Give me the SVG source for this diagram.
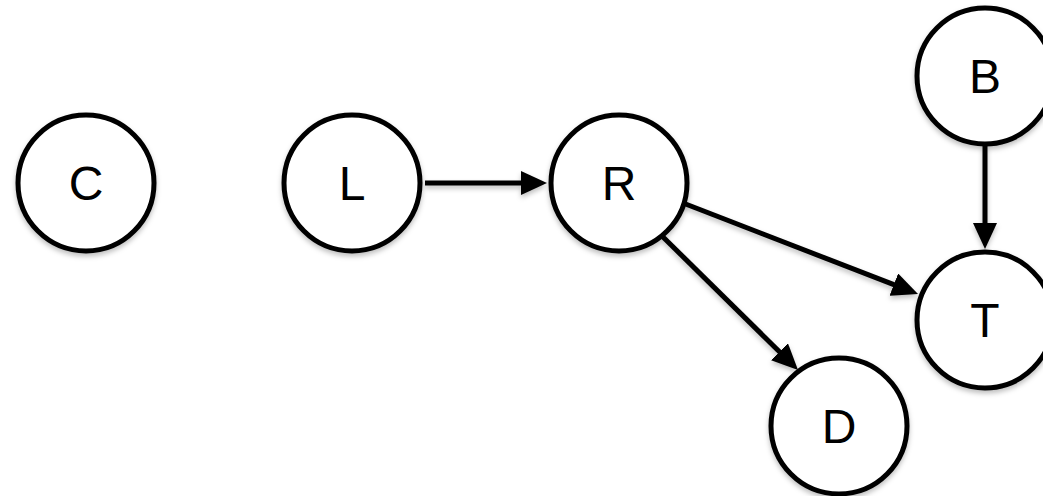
<svg xmlns="http://www.w3.org/2000/svg" width="1043" height="496" viewBox="0 0 1043 496">
<style>
.node circle{fill:#fff;stroke:#000;stroke-width:5;filter:url(#sh)}
.node text{font-family:"Liberation Sans",Arial,sans-serif;font-size:48px;fill:#000;text-anchor:middle}
.edge{stroke:#000;stroke-width:5;fill:none;marker-end:url(#ah);filter:url(#sh)}
</style>
<defs>
<filter id="sh" filterUnits="userSpaceOnUse" x="0" y="0" width="1043" height="496">
<feDropShadow dx="0" dy="3" stdDeviation="2.5" flood-color="#000" flood-opacity="0.25"/>
</filter>
<marker id="ah" markerUnits="userSpaceOnUse" markerWidth="26" markerHeight="24" refX="16" refY="12" orient="auto">
<path d="M0,0 L26,12 L0,24 z" fill="#000"/>
</marker>
</defs>
<rect width="1043" height="496" fill="#fff"/>
<g id="connectors">
<line class="edge" x1="425" y1="183" x2="537" y2="183"/>
<line class="edge" x1="985" y1="145" x2="985" y2="239"/>
<line class="edge" x1="683" y1="203" x2="908.7" y2="290.4"/>
<line class="edge" x1="663" y1="237" x2="790.9" y2="363"/>
</g>
<g id="node-C" class="node"><circle cx="86" cy="183" r="68"/><text x="86" y="200">C</text></g>
<g id="node-L" class="node"><circle cx="352" cy="183" r="68"/><text x="352" y="200">L</text></g>
<g id="node-R" class="node"><circle cx="619" cy="183" r="68"/><text x="619" y="200">R</text></g>
<g id="node-B" class="node"><circle cx="985" cy="76" r="68"/><text x="985" y="93">B</text></g>
<g id="node-T" class="node"><circle cx="985" cy="320" r="68"/><text x="985" y="337">T</text></g>
<g id="node-D" class="node"><circle cx="839" cy="426" r="68"/><text x="839" y="443">D</text></g>
</svg>
